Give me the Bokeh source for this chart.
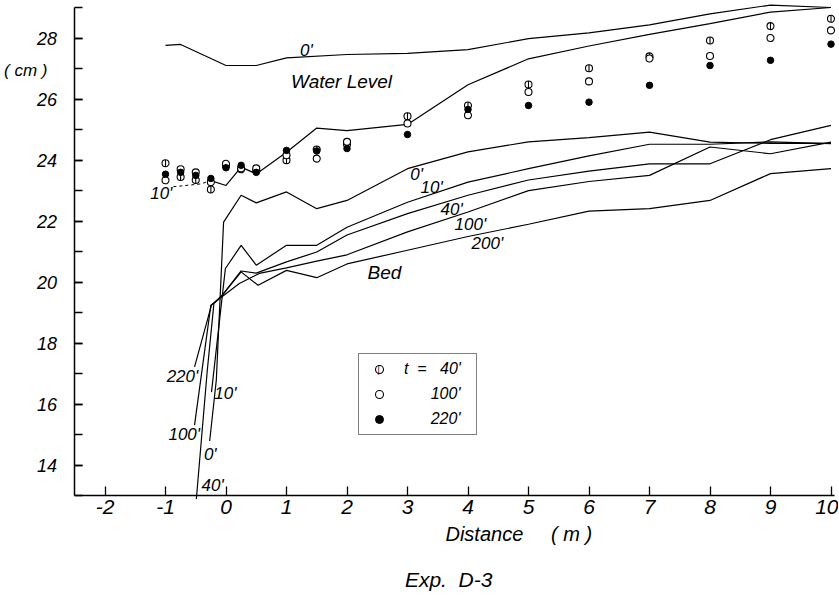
import numpy as np
from bokeh.plotting import figure
from bokeh.models import Range1d, FixedTicker, Label, Legend, LegendItem
from bokeh.embed import file_html
from bokeh.resources import INLINE

# ---------------- data ----------------
# water level lines
wl0_x = [-1.0, -0.75, 0.0, 0.5, 1.0, 2.0, 3.0, 4.0, 5.0, 6.0, 7.0, 8.0, 9.0, 10.0]
wl0_y = [27.76, 27.79, 27.1, 27.1, 27.35, 27.46, 27.5, 27.62, 27.98, 28.17, 28.43, 28.79, 29.08, 29.0]

wl10_dash_x = [-0.87, -0.42, -0.25]
wl10_dash_y = [23.13, 23.22, 23.33]
wl10_x = [-0.25, 0.0, 0.25, 0.5, 1.0, 1.5, 2.0, 3.0, 4.0, 5.0, 6.0, 7.0, 8.0, 9.0, 10.0]
wl10_y = [23.33, 23.17, 23.77, 23.55, 24.26, 25.05, 24.97, 25.17, 26.47, 27.32, 27.74, 28.12, 28.47, 28.85, 29.0]

# measured water levels
pts_x = [-1, -0.75, -0.5, -0.25, 0, 0.25, 0.5, 1, 1.5, 2, 3, 4, 5, 6, 7, 8, 9, 10]
t40 = [23.9, 23.45, 23.35, 23.04, 23.82, 23.7, 23.65, 24.0, 24.35, 24.52, 25.44, 25.79, 26.48, 27.01, 27.4, 27.92, 28.39, 28.63]
t100 = [23.34, 23.7, 23.6, 23.28, 23.88, 23.73, 23.73, 24.16, 24.05, 24.6, 25.2, 25.47, 26.23, 26.58, 27.33, 27.41, 28.0, 28.25]
t220 = [23.54, 23.6, 23.5, 23.4, 23.75, 23.83, 23.6, 24.32, 24.3, 24.38, 24.84, 25.66, 25.79, 25.9, 26.45, 27.1, 27.27, 27.8]

# bed profiles
bed0_x = [-0.27, -0.16, -0.04, 0.25, 0.5, 1.0, 1.5, 2.0, 3.0, 4.0, 5.0, 6.0, 7.0, 8.0, 9.0, 10.0]
bed0_y = [14.8, 16.8, 21.97, 22.85, 22.6, 22.96, 22.41, 22.68, 23.72, 24.27, 24.6, 24.74, 24.92, 24.59, 24.55, 24.55]

bed10_x = [-0.24, -0.06, -0.01, 0.25, 0.5, 1.0, 1.5, 2.0, 3.0, 4.0, 5.0, 6.0, 7.0, 8.0, 9.0, 10.0]
bed10_y = [16.4, 19.58, 20.45, 21.21, 20.56, 21.21, 21.21, 21.8, 22.62, 23.28, 23.72, 24.14, 24.52, 24.52, 24.6, 24.54]

bed40_x = [-0.49, -0.31, -0.2, -0.06, 0.25, 0.5, 1.0, 1.5, 2.0, 3.0, 4.0, 5.0, 6.0, 7.0, 8.0, 9.0, 10.0]
bed40_y = [12.9, 17.1, 19.3, 19.58, 20.37, 20.3, 20.67, 20.99, 21.55, 22.25, 22.85, 23.35, 23.64, 23.88, 23.88, 24.67, 25.14]

bed100_x = [-0.52, -0.25, 0.22, 0.55, 1.0, 1.5, 2.0, 3.0, 4.0, 5.0, 6.0, 7.0, 8.0, 9.0, 10.0]
bed100_y = [15.32, 19.25, 19.96, 20.29, 20.47, 20.69, 20.9, 21.65, 22.3, 23.0, 23.3, 23.5, 24.43, 24.21, 24.59]

bed200_x = [-0.52, -0.24, -0.06, 0.25, 0.53, 1.0, 1.5, 2.0, 3.0, 4.0, 5.0, 6.0, 7.0, 8.0, 9.0, 10.0]
bed200_y = [17.23, 19.25, 19.58, 20.34, 19.9, 20.39, 20.15, 20.6, 21.05, 21.5, 21.9, 22.33, 22.41, 22.68, 23.56, 23.72]

x_ticks = list(range(-2, 11))
y_ticks = list(range(14, 29, 2))
y_minor = list(range(13, 30))
x_axis_span = (-2.51, 10.05)
y_axis_span = (13, 29)

# ---------------- figure ----------------
FONT = "Liberation Sans"
W, H = 838, 594
PX_X, X0_PX = 60.5, 225.5      # px per metre, pixel column of x = 0
PX_Y, Y29_PX = 30.53, 7.0      # px per cm, pixel row of y = 29
x_start = -X0_PX / PX_X
x_end = (W - X0_PX) / PX_X
y_end = 29 + Y29_PX / PX_Y
y_start = 29 - (H - Y29_PX) / PX_Y

p = figure(width=W, height=H, x_range=Range1d(x_start, x_end), y_range=Range1d(y_start, y_end),
           output_backend="svg", toolbar_location=None,
           min_border_left=0, min_border_right=0, min_border_top=0, min_border_bottom=0)
p.outline_line_color = None
p.grid.visible = False
p.background_fill_color = "white"
p.border_fill_color = "white"

# axes drawn inside the (full-canvas) frame
p.xaxis.fixed_location = y_axis_span[0]
p.yaxis.fixed_location = x_axis_span[0]
p.xaxis.bounds = x_axis_span
p.yaxis.bounds = y_axis_span
for ax in (p.xaxis[0], p.yaxis[0]):
    ax.axis_line_color = "black"
    ax.axis_line_width = 1.5
    ax.major_tick_line_color = "black"
    ax.major_tick_line_width = 1.3
    ax.minor_tick_line_color = "black"
    ax.minor_tick_line_width = 1.3
    ax.major_tick_out = 0
    ax.minor_tick_out = 0
    ax.major_label_text_font = FONT
    ax.major_label_text_font_style = "italic"
    ax.major_label_text_color = "black"

p.xaxis.ticker = FixedTicker(ticks=x_ticks, minor_ticks=[])
p.xaxis.major_label_overrides = {t: str(t) for t in x_ticks}
p.xaxis.major_tick_in = 9
p.xaxis.minor_tick_in = 0
p.xaxis.major_label_text_font_size = "21px"
p.xaxis.major_label_standoff = 4

p.yaxis.ticker = FixedTicker(ticks=y_ticks, minor_ticks=y_minor)
p.yaxis.major_tick_in = 8
p.yaxis.minor_tick_in = 8
p.yaxis.major_label_text_font_size = "18px"
p.yaxis.major_label_standoff = 17

LW = 1.2
# water level lines
p.line(wl0_x, wl0_y, line_color="black", line_width=LW)
p.line(wl10_dash_x, wl10_dash_y, line_color="black", line_width=1.0, line_dash="3 3")
p.line(wl10_x, wl10_y, line_color="black", line_width=LW)

# bed lines
for bx, by in ((bed0_x, bed0_y), (bed10_x, bed10_y), (bed40_x, bed40_y),
               (bed100_x, bed100_y), (bed200_x, bed200_y)):
    p.line(bx, by, line_color="black", line_width=LW)

# measured points
MARK = 7
half_bar = (MARK / 2) / PX_Y           # half height of the bar inside the 40' symbol, in cm
r40c = p.scatter(pts_x, t40, marker="circle", size=MARK, fill_color=None, line_color="black", line_width=1.1)
p.segment(x0=pts_x, x1=pts_x, y0=[v - half_bar for v in t40], y1=[v + half_bar for v in t40],
          line_color="black", line_width=1.1)
r100 = p.scatter(pts_x, t100, marker="circle", size=MARK, fill_color="white", line_color="black", line_width=1.1)
r220 = p.scatter(pts_x, t220, marker="circle", size=6.5, fill_color="black", line_color="black", line_width=1)

# labels (data units; the frame covers the whole canvas)
def lab(x, y, text, size="17px"):
    p.add_layout(Label(x=x, y=y, text=text, text_font=FONT, text_font_style="italic",
                       text_font_size=size, text_align="center", text_baseline="middle",
                       text_color="black"))

lab(1.33, 27.59, "0'")
lab(1.91, 26.56, "Water Level", size="19px")
lab(-1.07, 22.91, "10'")
lab(3.15, 23.53, "0'")
lab(3.40, 23.09, "10'")
lab(3.73, 22.38, "40'")
lab(4.04, 21.89, "100'")
lab(4.32, 21.27, "200'")
lab(2.62, 20.32, "Bed", size="19px")
lab(-0.72, 16.91, "220'")
lab(-0.01, 16.36, "10'")
lab(-0.69, 15.01, "100'")
lab(-0.26, 14.36, "0'")
lab(-0.22, 13.34, "40'")

lab(-3.31, 26.94, "( cm )", size="17px")
lab(4.84, 11.74, "Distance\u00a0\u00a0\u00a0\u00a0\u00a0(\u00a0m\u00a0)", size="20px")
lab(3.68, 10.25, "Exp.\u00a0\u00a0D-3", size="21px")

# legend geometry
LEG_LEFT, LEG_BOTTOM = 358, H - 435
PAD, GW, GH, SP = 5, 30, 20, 5
leg_height = 2 * PAD + 3 * GH + 2 * SP

legend = Legend(items=[
    LegendItem(label="t\u00a0\u00a0=\u00a0\u00a0\u00a040'", renderers=[r40c]),
    LegendItem(label="\u2007\u2007\u2007100'", renderers=[r100]),
    LegendItem(label="\u2007\u2007\u2007220'", renderers=[r220]),
], location=(LEG_LEFT, LEG_BOTTOM))
legend.border_line_color = "black"
legend.border_line_width = 1.3
legend.background_fill_alpha = 0
legend.label_text_font = FONT
legend.label_text_font_style = "italic"
legend.label_text_font_size = "16px"
legend.label_text_color = "black"
legend.glyph_width = GW
legend.glyph_height = GH
legend.label_height = GH
legend.label_width = 67
legend.label_standoff = 10
legend.spacing = SP
legend.padding = PAD
legend.margin = 0
p.add_layout(legend)

# vertical bar of the 40' key symbol, at the centre of the first legend glyph
p.add_layout(Label(x=LEG_LEFT + PAD + GW / 2, y=LEG_BOTTOM + leg_height - PAD - GH / 2,
                   x_units="screen", y_units="screen", text="|", text_font="DejaVu Sans",
                   text_font_size="8px", text_align="center", text_baseline="middle",
                   text_color="black", level="overlay"))

open("out.html", "w").write(file_html(p, INLINE))
